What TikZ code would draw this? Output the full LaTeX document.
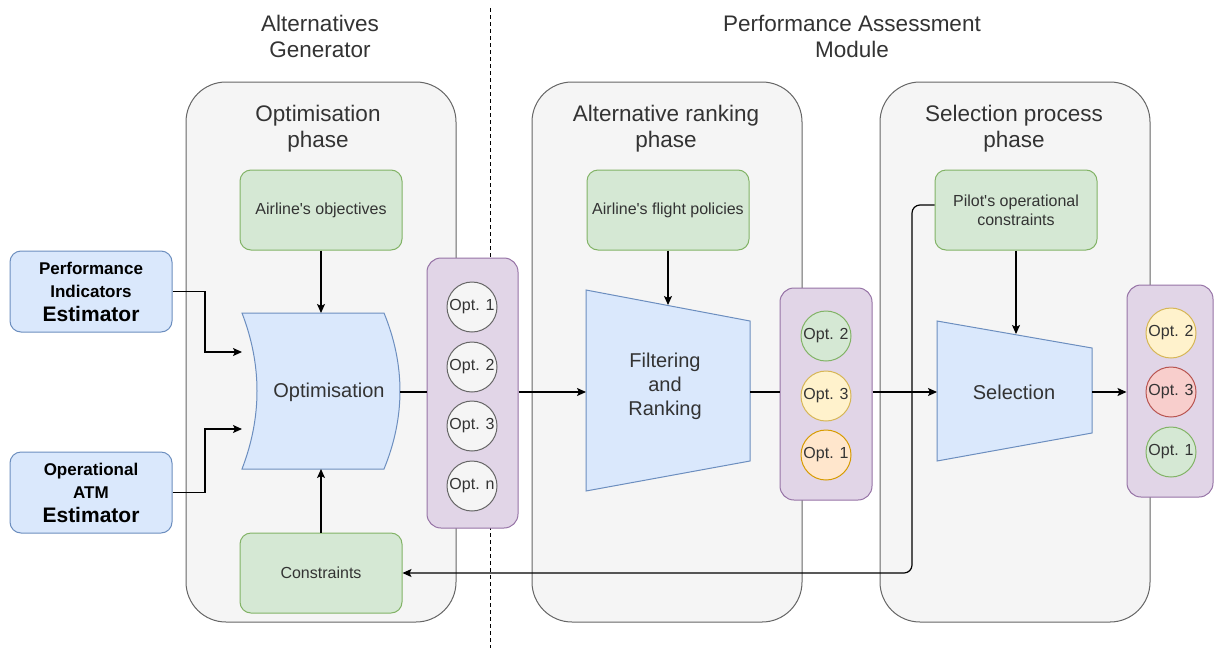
\documentclass[tikz,border=0pt]{standalone}
\usepackage{fontspec}
\setmainfont{Liberation Sans}[Ligatures=TeXOff]
\usetikzlibrary{arrows.meta,calc}
\definecolor{panelfill}{HTML}{F5F5F5}
\definecolor{panelline}{HTML}{666666}
\definecolor{gfill}{HTML}{D5E8D4}\definecolor{gline}{HTML}{82B366}
\definecolor{bfill}{HTML}{DAE8FC}\definecolor{bline}{HTML}{6C8EBF}
\definecolor{pfill}{HTML}{E1D5E7}\definecolor{pline}{HTML}{9673A6}
\definecolor{yfill}{HTML}{FFF2CC}\definecolor{yline}{HTML}{D6B656}
\definecolor{ofill}{HTML}{FFE6CC}\definecolor{oline}{HTML}{D79B00}
\definecolor{rfill}{HTML}{F8CECC}\definecolor{rline}{HTML}{B85450}
\definecolor{txt}{HTML}{333333}
\tikzset{
  panel/.style={draw=panelline, fill=panelfill, rounded corners=40pt, line width=1pt, minimum width=270pt, minimum height=540pt, inner sep=0pt},
  bigtitle/.style={font=\fontsize{22.5}{26}\selectfont, align=center, text=txt, inner sep=0pt},
  greenbox/.style={draw=gline, fill=gfill, rounded corners=11pt, line width=1pt, minimum width=162pt, minimum height=80pt, text=txt, align=center, font=\fontsize{16}{19}\selectfont},
  estbox/.style={draw=bline, fill=bfill, rounded corners=11pt, line width=1pt, minimum width=162pt, minimum height=81pt, text=black, align=center, font=\bfseries\fontsize{17}{23.5}\selectfont},
  listbox/.style={draw=pline, fill=pfill, rounded corners=14pt, line width=1pt, inner sep=0pt},
  optc/.style={circle, draw=panelline, fill=panelfill, line width=1pt, minimum size=50pt, inner sep=0pt, text=txt, font=\fontsize{16}{18}\selectfont},
  shapefill/.style={draw=bline, fill=bfill, line width=1pt},
  shapetext/.style={text=txt, align=center, font=\fontsize{20}{24}\selectfont, inner sep=0pt},
  conn/.style={draw=black, line width=1.2pt},
  arr/.style={conn, -{Stealth[length=9pt,width=8pt,inset=2pt]}}
}
\begin{document}
\begin{tikzpicture}[x=1pt,y=-1pt]
\fill[white] (0,0) rectangle (1214,648);
\useasboundingbox (0,0) rectangle (1214,648);

% panels
\node[panel] (p1) at (321,352) {};
\node[panel] (p2) at (667,352) {};
\node[panel] (p3) at (1015,352) {};

% module titles
\node[bigtitle] (hAG) at (320,36) {Alternatives\\Generator};
\node[bigtitle] (hPA) at (852,36) {Performance Assessment\\Module};

% separator
\coordinate (sepT) at (490.5,8);
\coordinate (sepB) at (490.5,648);
\draw[line width=1.1pt, dash pattern=on 4pt off 3pt] (sepT) -- (sepB);

% phase titles
\node[bigtitle] (t1) at (318,129) {Optimisation\\phase};
\node[bigtitle] (t2) at (666,129) {Alternative ranking\\phase};
\node[bigtitle] (t3) at (1014,129) {Selection process\\phase};

% green boxes
\node[greenbox] (obj) at (321,210) {Airline's objectives};
\node[greenbox] (pol) at (668,210) {Airline's flight policies};
\node[greenbox] (pil) at (1016,210) {Pilot's operational\\constraints};
\node[greenbox] (cons) at (321,573) {Constraints};

% estimators
\node[estbox] (pie) at (91,291.5) {Performance\\Indicators\\{\fontsize{21}{23.5}\selectfont Estimator}};
\node[estbox] (atm) at (91,492.5) {Operational\\ATM\\{\fontsize{21}{23.5}\selectfont Estimator}};

% optimisation shape
\draw[shapefill] (242,313) -- (384,313) .. controls (405.3,365) and (405.3,417) .. (384,469) -- (242,469) .. controls (262,417) and (262,365) .. cycle;
\node[shapetext] (opt) at (329,392) {Optimisation};
\coordinate (optN) at (321,313);
\coordinate (optS) at (321,469);
\coordinate (optE) at (400,392);
\coordinate (optW1) at (242,352);
\coordinate (optW2) at (242,429);

% filtering trapezoid
\draw[shapefill] (586,290) -- (750,321) -- (750,461) -- (586,491) -- cycle;
\node[shapetext] (filt) at (665,386) {Filtering\\and\\Ranking};
\coordinate (fL) at (586,392);
\coordinate (fR) at (750,392);
\coordinate (fT) at (668,305);

% selection trapezoid
\draw[shapefill] (937,321) -- (1092,348) -- (1092,433) -- (937,461) -- cycle;
\node[shapetext] (sel) at (1014,392) {Selection};
\coordinate (sL) at (937,392);
\coordinate (sR) at (1092,392);
\coordinate (sT) at (1016,334);

% connectors
\draw[arr] (pie.east) -- (205,291.5) |- (optW1);
\draw[arr] (atm.east) -- (205,492.5) |- (optW2);
\draw[arr] (obj.south) -- (optN);
\draw[arr] (cons.north) -- (optS);
\draw[arr] (pol.south) -- (fT);
\draw[arr] (pil.south) -- (sT);
\coordinate (fbc) at (912,573);
\draw[arr, rounded corners=8pt] ([yshift=5pt]pil.west) -| (fbc) -- (cons.east);

% option lists
\node[listbox, minimum width=91pt, minimum height=270pt] (l1) at (472.5,393) {};
\node[listbox, minimum width=92pt, minimum height=212pt] (l2) at (826,394) {};
\node[listbox, minimum width=86pt, minimum height=212pt] (l3) at (1170,391) {};

\draw[conn] (optE) -- (l1.west |- optE);
\draw[arr] (l1.east |- optE) -- (fL);
\draw[conn] (fR) -- (l2.west |- fR);
\draw[arr] (l2.east |- fR) -- (sL);
\draw[arr] (sR) -- (l3.west |- sR);

\node[optc] (a1) at (472,307) {Opt. 1};
\node[optc] (a2) at (472,367) {Opt. 2};
\node[optc] (a3) at (472,426) {Opt. 3};
\node[optc] (an) at (472,486) {Opt. n};

\node[optc, draw=gline, fill=gfill] (b2) at (826,336) {Opt. 2};
\node[optc, draw=yline, fill=yfill] (b3) at (826,396) {Opt. 3};
\node[optc, draw=oline, fill=ofill] (b1) at (826,455) {Opt. 1};

\node[optc, draw=yline, fill=yfill] (c2) at (1171,333) {Opt. 2};
\node[optc, draw=rline, fill=rfill] (c3) at (1171,392) {Opt. 3};
\node[optc, draw=gline, fill=gfill] (c1) at (1171,452) {Opt. 1};
\end{tikzpicture}
\end{document}
